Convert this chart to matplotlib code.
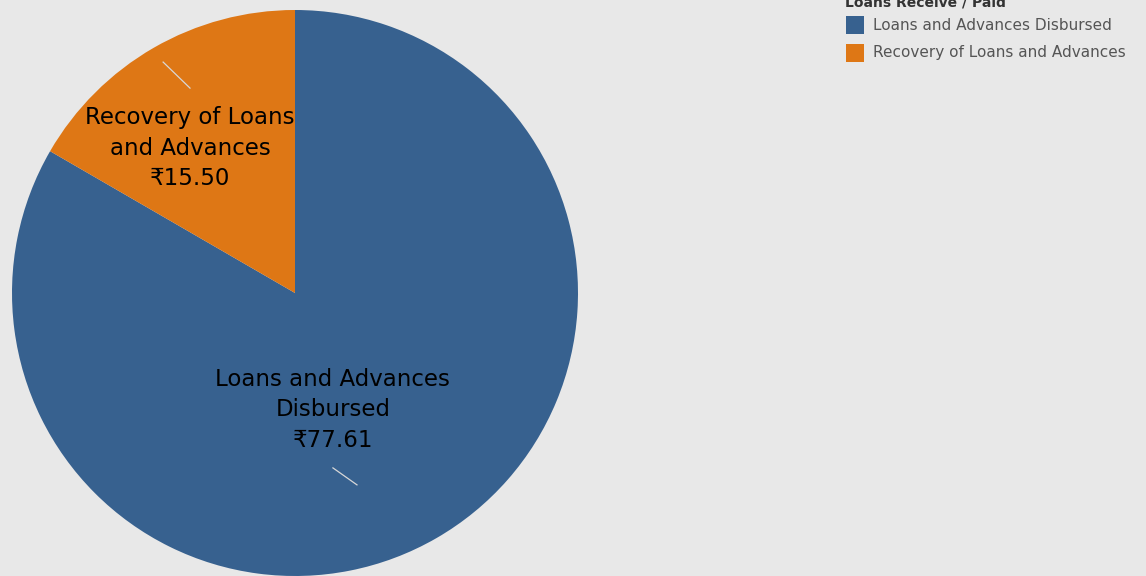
import matplotlib.pyplot as plt
from matplotlib.patches import Rectangle

# data
categories = ["Loans and Advances Disbursed", "Recovery of Loans and Advances"]
pie_labels = ["Loans and Advances\nDisbursed", "Recovery of Loans\nand Advances"]
values = [77.61, 15.50]
colors = ["#37618f", "#de7715"]
legend_title = "Loans Receive / Paid"

bg = "#e8e8e8"
plt.rcParams['font.family'] = ['DejaVu Sans', 'Noto Sans']

fig = plt.figure(figsize=(11.46, 5.76), dpi=100, facecolor=bg)
# pie centre ~ (295, 293) px, radius ~283 px
ax = fig.add_axes([12 / 1146, 0.0, 566 / 1146, 566 / 576])
ax.set_facecolor(bg)
wedges, _ = ax.pie(values, colors=colors, startangle=90, counterclock=False,
                   radius=1.0, wedgeprops=dict(linewidth=0))
ax.set_xlim(-1, 1)
ax.set_ylim(-1, 1)
ax.set_aspect('equal')
ax.axis('off')

# labels inside slices with the small leader ticks
label_pos = [(0.134, -0.413), (-0.371, 0.512)]
ticks = [((0.134, 0.219), (-0.618, -0.678)), ((-0.466, -0.371), (0.816, 0.724))]
for lab, val, (x, y), (tx, ty) in zip(pie_labels, values, label_pos, ticks):
    ax.text(x, y, f"{lab}\n\u20b9{val:.2f}", ha='center', va='center',
            fontsize=16.5, color='black', linespacing=1.42)
    ax.plot(tx, ty, color='#d8d8d8', linewidth=0.9)

# legend drawn by hand, top right
fig.text(845 / 1146, 1 - 3 / 576, legend_title, ha='left', va='center',
         fontsize=10, color='#333333', fontweight='bold')
for i, (cat, col) in enumerate(zip(categories, colors)):
    yc = 25 + i * 28
    fig.patches.append(Rectangle((846 / 1146, 1 - (yc + 9) / 576), 18 / 1146, 18 / 576,
                                 transform=fig.transFigure, facecolor=col,
                                 edgecolor='none'))
    fig.text(873 / 1146, 1 - yc / 576, cat, ha='left', va='center',
             fontsize=11, color='#555555')

fig.savefig("out.png", dpi=100, facecolor=bg)
